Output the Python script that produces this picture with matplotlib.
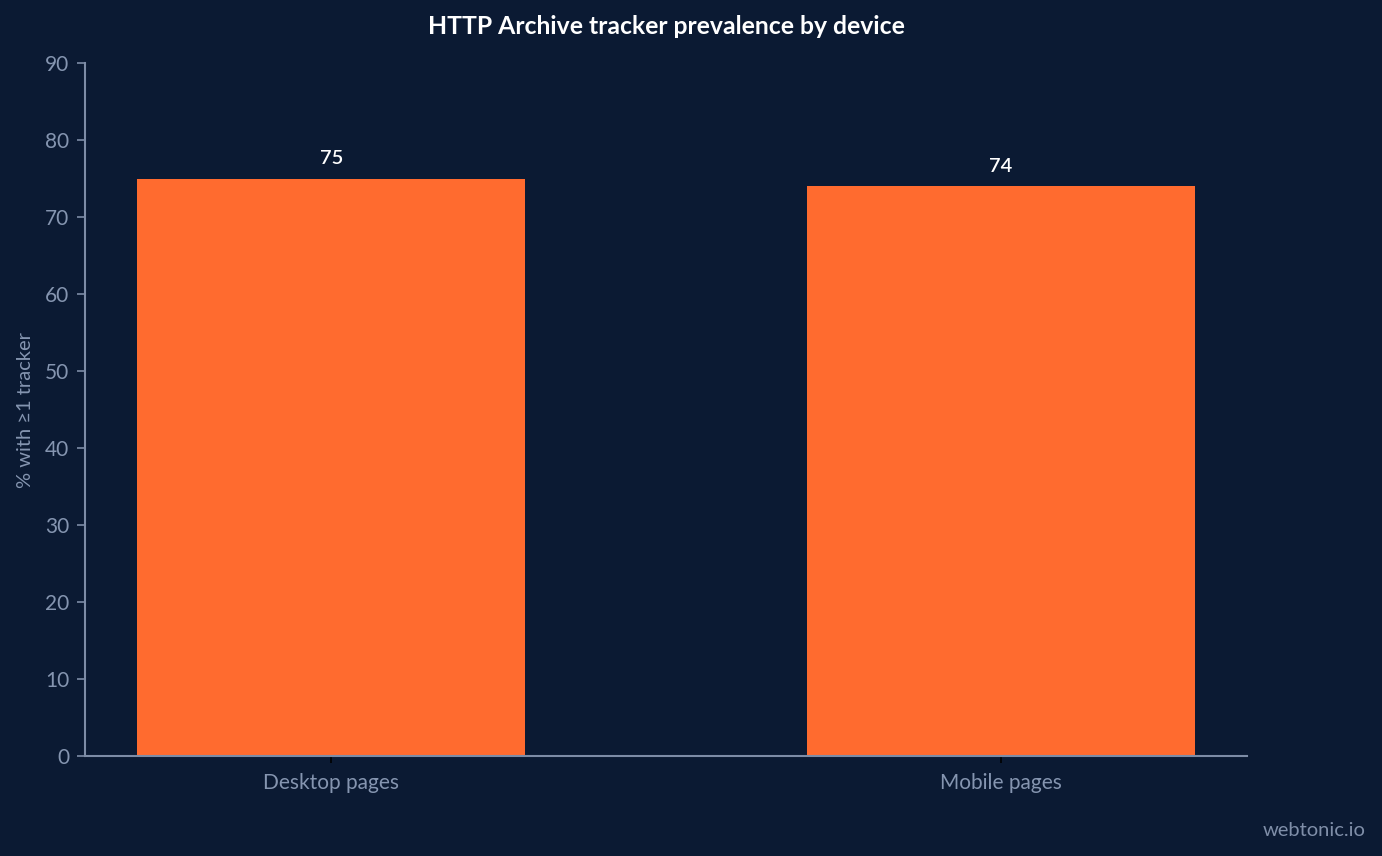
import matplotlib
matplotlib.use("Agg")
import matplotlib.pyplot as plt

plt.rcParams['font.family'] = ['Lato', 'DejaVu Sans']

categories = ["Desktop pages", "Mobile pages"]
values = [75, 74]
title = "HTTP Archive tracker prevalence by device"
ylabel = "% with ≥1 tracker"
yticks = [0, 10, 20, 30, 40, 50, 60, 70, 80, 90]

BG = "#0b1a33"
BAR = "#ff6b2f"
TXT = "#8595b0"
SPINE = "#7d8ca6"

fig = plt.figure(figsize=(13.82, 8.56), dpi=100, facecolor=BG)
ax = fig.add_axes([85/1382, 1-756/856, (1247-85)/1382, (756-63)/856])
ax.set_facecolor(BG)

x = list(range(len(categories)))
bars = ax.bar(x, values, width=0.58, color=BAR, zorder=2)
for xi, v in zip(x, values):
    ax.annotate(f"{v}", (xi, v), xytext=(0, 8), textcoords="offset points",
                ha="center", va="bottom", color="white", fontsize=14.5, fontweight="semibold")

ax.set_xlim(-0.368, 1.368)
ax.set_ylim(0, 90)
ax.set_yticks(yticks)
ax.set_xticks(x)
ax.set_xticklabels(categories)
ax.tick_params(axis='y', colors=SPINE, labelcolor=TXT, labelsize=15, length=6, width=1.2, pad=5.5)
ax.tick_params(axis='x', colors="#000000", labelcolor=TXT, labelsize=15, length=5, width=1.2, pad=7)
for s in ['top', 'right']:
    ax.spines[s].set_visible(False)
for s in ['left', 'bottom']:
    ax.spines[s].set_color(SPINE)
    ax.spines[s].set_linewidth(1.5)
ax.set_ylabel(ylabel, color=TXT, fontsize=14.5, labelpad=8)

fig.text(666/1382, 1-27/856, title, ha="center", va="center", color="white",
         fontsize=17.8, fontweight="bold")
fig.text(1366/1382, 1-830/856, "webtonic.io", ha="right", va="center", color="#7f8ea8", fontsize=14.5)

fig.savefig("out.png", dpi=100, facecolor=BG)
